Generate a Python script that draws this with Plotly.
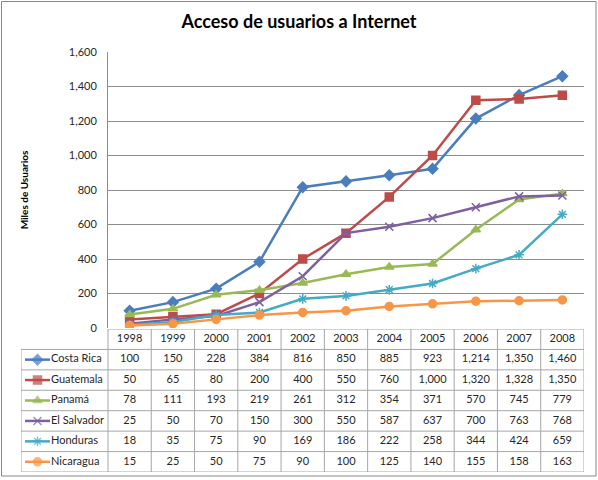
import plotly.graph_objects as go

years = ["1998", "1999", "2000", "2001", "2002", "2003", "2004", "2005", "2006", "2007", "2008"]
costa_rica = [100, 150, 228, 384, 816, 850, 885, 923, 1214, 1350, 1460]
guatemala = [50, 65, 80, 200, 400, 550, 760, 1000, 1320, 1328, 1350]
panama = [78, 111, 193, 219, 261, 312, 354, 371, 570, 745, 779]
el_salvador = [25, 50, 70, 150, 300, 550, 587, 637, 700, 763, 768]
honduras = [18, 35, 75, 90, 169, 186, 222, 258, 344, 424, 659]
nicaragua = [15, 25, 50, 75, 90, 100, 125, 140, 155, 158, 163]

series = [
    ("Costa Rica", costa_rica, "#4A7EBB", "diamond", 8),
    ("Guatemala", guatemala, "#BE4B48", "square", 8),
    ("Panamá", panama, "#98B954", "triangle-up", 8),
    ("El Salvador", el_salvador, "#7D60A0", "x-thin-open", 8),
    ("Honduras", honduras, "#46AAC5", "asterisk-open", 8),
    ("Nicaragua", nicaragua, "#F79646", "circle", 8),
]

W, H = 598, 480
px = lambda v: v / W
py = lambda v: 1 - v / H

plot_l, plot_r, plot_t, plot_b = 108, 584, 52, 328
tab_l, tab_t, tab_b = 21, 329, 472
n = len(years)
unit = (plot_r - plot_l) / n
tab_x0 = -0.5 - (plot_l - tab_l) / unit
xi = list(range(n))
font = "Lato, 'Open Sans', sans-serif"
grid = "#8C8C8C"
tline = "#A6A6A6"

fig = go.Figure()
for name, vals, col, sym, sz in series:
    line_marker = dict(symbol=sym, size=sz, color=col, line=dict(color=col, width=1.5))
    fig.add_trace(go.Scatter(x=xi, y=vals, mode="lines+markers", name=name,
                             line=dict(color=col, width=2.5), marker=line_marker,
                             xaxis="x", yaxis="y", showlegend=False))

fig.add_trace(go.Scatter(x=xi, y=[0.5] * n, mode="text", text=years, xaxis="x2", yaxis="y2",
                         textfont=dict(family=font, size=11, color="#262626"), showlegend=False,
                         hoverinfo="skip"))
for j, (name, vals, col, sym, sz) in enumerate(series):
    fig.add_trace(go.Scatter(x=xi, y=[j + 1.5] * n, mode="text", text=[f"{v:,}" for v in vals],
                             xaxis="x2", yaxis="y2", textfont=dict(family=font, size=11, color="#262626"),
                             showlegend=False, hoverinfo="skip"))
    kx0 = tab_x0 + 4 / unit
    kx1 = tab_x0 + 29 / unit
    fig.add_trace(go.Scatter(x=[kx0, (kx0 + kx1) / 2, kx1], y=[j + 1.5] * 3, mode="lines+markers",
                             line=dict(color=col, width=2.5),
                             marker=dict(symbol=sym, size=[0, 8, 0], color=col, line=dict(color=col, width=1.5)),
                             xaxis="x2", yaxis="y2", showlegend=False, hoverinfo="skip"))
    fig.add_trace(go.Scatter(x=[kx1 + 1 / unit], y=[j + 1.5], mode="text", text=[name], textposition="middle right",
                             xaxis="x2", yaxis="y2", textfont=dict(family=font, size=11, color="#262626"),
                             showlegend=False, hoverinfo="skip"))

shapes = []
shapes.append(dict(type="line", xref="x2", yref="y2", x0=-0.5, x1=n - 0.5, y0=0, y1=0, line=dict(color=tline, width=1)))
for r in range(1, len(series) + 2):
    shapes.append(dict(type="line", xref="x2", yref="y2", x0=tab_x0, x1=n - 0.5, y0=r, y1=r,
                       line=dict(color=tline, width=1)))
for c in range(n + 1):
    shapes.append(dict(type="line", xref="x2", yref="y2", x0=c - 0.5, x1=c - 0.5, y0=0, y1=len(series) + 1,
                       line=dict(color=tline, width=1)))
shapes.append(dict(type="line", xref="x2", yref="y2", x0=tab_x0, x1=tab_x0, y0=1, y1=len(series) + 1,
                   line=dict(color=tline, width=1)))
shapes.append(dict(type="rect", xref="paper", yref="paper", x0=px(1.5), x1=px(596), y0=py(476), y1=py(1.5),
                   line=dict(color="#868686", width=1)))

fig.update_layout(
    width=W, height=H, margin=dict(l=0, r=0, t=0, b=0, autoexpand=False),
    paper_bgcolor="white", plot_bgcolor="white",
    shapes=shapes,
    title=dict(text="<b>Acceso de usuarios a Internet</b>", x=0.5, xanchor="center", y=py(22), yanchor="middle",
               font=dict(family=font, size=18, color="black")),
    xaxis=dict(domain=[px(plot_l), px(plot_r)], range=[-0.5, n - 0.5], showgrid=False, showticklabels=False,
               zeroline=False, showline=False, fixedrange=True, automargin=False),
    yaxis=dict(domain=[py(plot_b), py(plot_t)], range=[0, 1600], dtick=200, tickformat=",", automargin=False,
               showgrid=True, gridcolor=grid, gridwidth=1, zeroline=False, showline=True, linecolor=grid,
               ticks="", tickfont=dict(family=font, size=11, color="#262626"), ticklabelstandoff=8,
               title=dict(text="<b>Miles de Usuarios</b>", font=dict(family=font, size=10, color="black"), standoff=38)),
    xaxis2=dict(domain=[px(tab_l), px(plot_r)], range=[tab_x0, n - 0.5], visible=False, anchor="y2", automargin=False),
    yaxis2=dict(domain=[py(tab_b), py(tab_t)], range=[len(series) + 1, 0], visible=False, anchor="x2", automargin=False),
)

fig.write_html("out.html", config={"displayModeBar": False},
               post_script="document.body.style.margin='0';document.body.style.overflow='hidden';")
